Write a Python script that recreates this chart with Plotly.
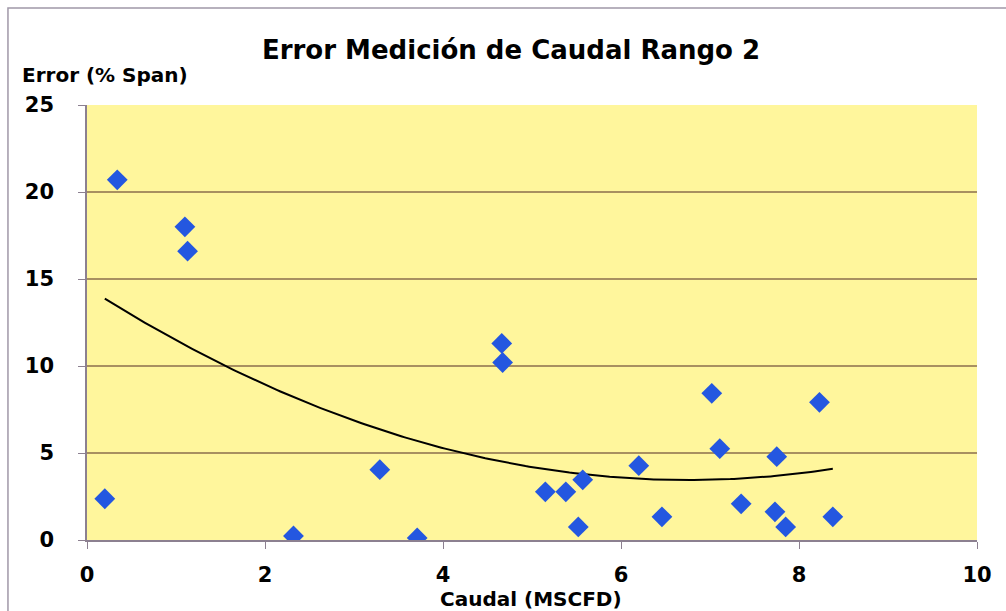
import numpy as np
import plotly.graph_objects as go

caudal = [0.20, 0.34, 1.10, 1.13, 2.32, 3.29, 3.71, 4.66, 4.67, 5.15, 5.38, 5.57,
          5.52, 6.20, 6.46, 7.02, 7.11, 7.35, 7.75, 7.73, 7.85, 8.23, 8.38]
error = [2.37, 20.7, 18.0, 16.6, 0.23, 4.04, 0.12, 11.3, 10.2, 2.77, 2.77, 3.46,
         0.75, 4.27, 1.33, 8.43, 5.25, 2.08, 4.79, 1.62, 0.75, 7.91, 1.33]

x_ticks = [0, 2, 4, 6, 8, 10]
y_ticks = [0, 5, 10, 15, 20, 25]

# Polynomial (order 2) trend line fitted from the data, as the spreadsheet does
coef = np.polyfit(caudal, error, 2)
xt = np.linspace(min(caudal), max(caudal), 200)
yt = np.polyval(coef, xt)

fig = go.Figure()
fig.add_trace(go.Scatter(x=xt, y=yt, mode="lines",
                         line=dict(color="black", width=2), showlegend=False,
                         hoverinfo="skip"))
fig.add_trace(go.Scatter(x=caudal, y=error, mode="markers",
                         marker=dict(symbol="diamond", size=16, color="#2457E0",
                                     line=dict(width=0)),
                         showlegend=False))

FONT = "DejaVu Sans"
grid_col = "#A89060"
axis_col = "#8C8090"
tick_font = dict(size=21, family=FONT, weight="bold", color="black")
fig.update_layout(
    width=1006, height=611,
    margin=dict(l=87, r=29, t=105, b=71),
    paper_bgcolor="white",
    plot_bgcolor="#FFF69C",
    font=dict(family=FONT, color="black", size=21),
    title=dict(text="<b>Error Medición de Caudal Rango 2</b>",
               x=0.508, xanchor="center", y=0.918, yanchor="middle",
               font=dict(size=26, family=FONT)),
    xaxis=dict(range=[0, 10], tickvals=x_ticks, showgrid=False, zeroline=False,
               showline=True, linecolor=axis_col, linewidth=1.5,
               ticks="outside", ticklen=7, tickcolor=axis_col,
               tickfont=tick_font, ticklabelstandoff=8, automargin=False),
    yaxis=dict(range=[0, 25], tickvals=y_ticks, showgrid=True, gridcolor=grid_col,
               gridwidth=1.5, zeroline=False,
               showline=True, linecolor=axis_col, linewidth=1.5,
               ticks="outside", ticklen=7, tickcolor=axis_col,
               tickfont=tick_font, ticklabelstandoff=20, automargin=False),
)

fig.add_annotation(text="<b>Error (% Span)</b>", xref="paper", yref="paper",
                   x=-0.0753, y=1.07, xanchor="left", yanchor="middle",
                   showarrow=False, font=dict(size=20))
fig.add_annotation(text="<b>Caudal (MSCFD)</b>", xref="paper", yref="paper",
                   x=0.499, y=-0.136, xanchor="center", yanchor="middle",
                   showarrow=False, font=dict(size=20))

# outer chart frame
fig.add_shape(type="rect", xref="paper", yref="paper",
              x0=-0.0888, x1=1.05, y0=-0.2, y1=1.223,
              line=dict(color="#A098A8", width=1.5), layer="below")

fig.write_html("out.html", config={"displayModeBar": False},
               post_script="document.body.style.margin='0';")
